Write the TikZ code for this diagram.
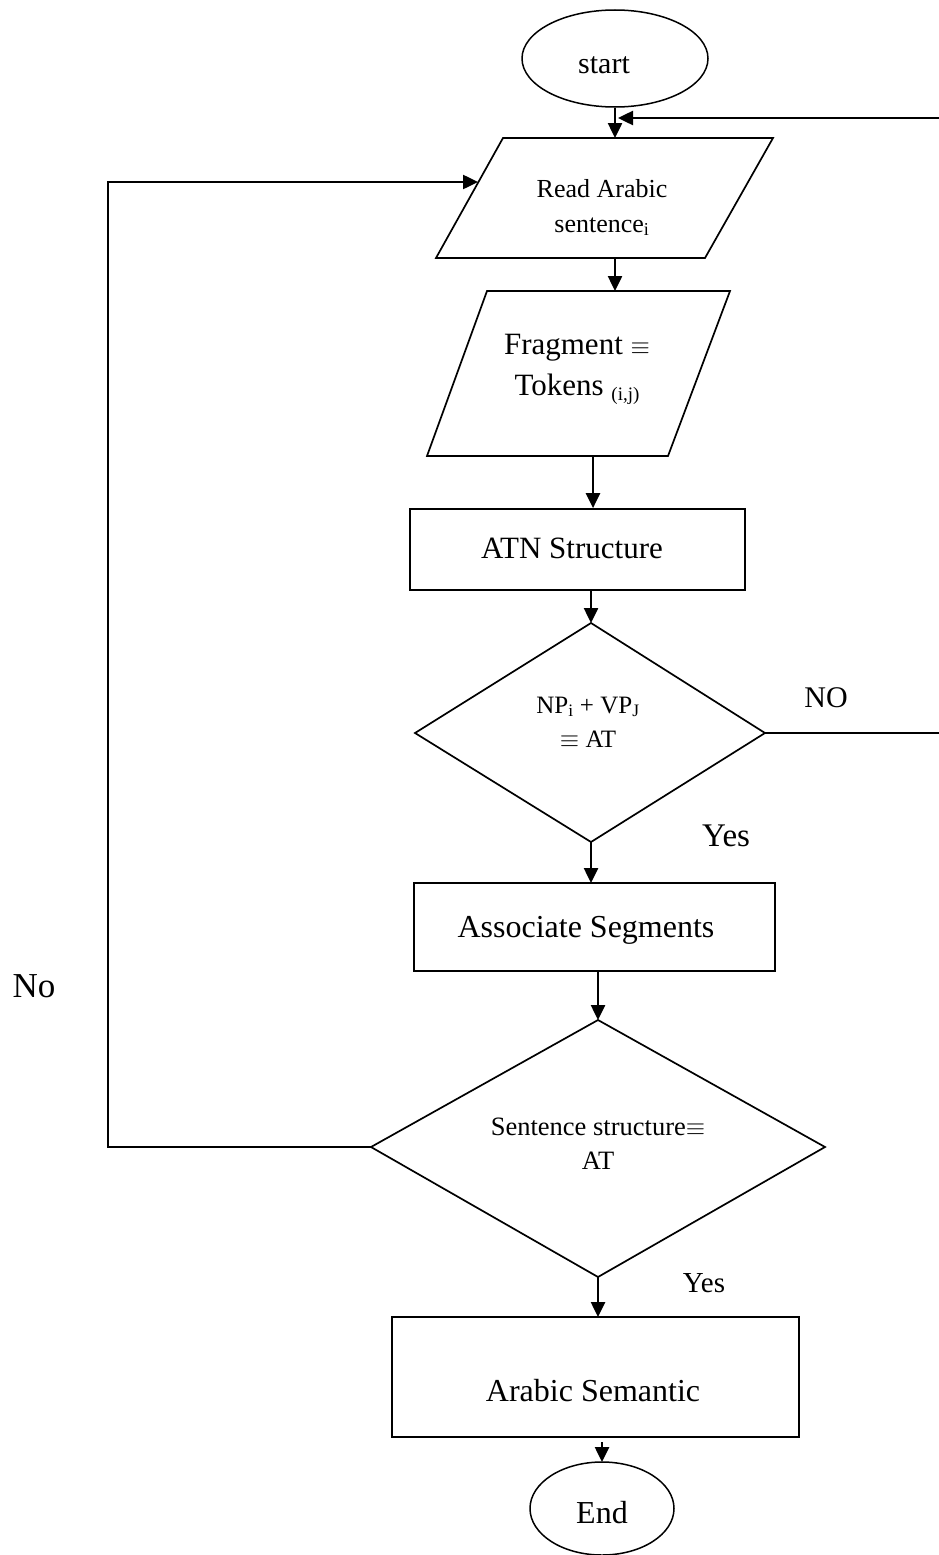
\documentclass[tikz,border=0pt]{standalone}
\usepackage{fontspec}
\setmainfont{Liberation Serif}
\usetikzlibrary{shapes.geometric,arrows.meta}

\tikzset{
  outline/.style={draw, line width=1.7pt, line join=miter},
  box/.style={outline, rectangle, inner sep=0pt},
  oval/.style={outline, ellipse, inner sep=0pt, line width=1.5pt},
  flow/.style={line width=2.5pt, -{Triangle[length=15pt,width=14pt]}},
  wire/.style={line width=2pt},
  lbl/.style={anchor=base, inner sep=0pt, align=center},
}
\newcommand{\eqv}{\ensuremath{\equiv}}

\begin{document}
\begin{tikzpicture}[x=1pt,y=-1pt]
\useasboundingbox (0,0) rectangle (938,1555);

% terminators
\node[oval, minimum width=186pt, minimum height=97pt] (start) at (615,58.5) {};
\node[lbl, font=\fontsize{30}{34}\selectfont] (startT) at (604,74) {start};
\node[oval, minimum width=144pt, minimum height=93pt] (end) at (602,1508.5) {};
\node[lbl, font=\fontsize{32}{36}\selectfont] (endT) at (602,1523) {End};

% input parallelogram: read sentence
\coordinate (p1a) at (503,138);
\coordinate (p1b) at (773,138);
\coordinate (p1c) at (705,258);
\coordinate (p1d) at (436,258);
\draw[outline] (p1a) -- (p1b) -- (p1c) -- (p1d) -- cycle;
\coordinate (p1top) at (615,138);
\coordinate (p1bot) at (615,258);
\coordinate (p1left) at (478,182);
% multi-line labels are anchored at the baseline of their last line
\node[lbl, font=\fontsize{26}{35}\selectfont] (readT) at (602,232)
  {Read Arabic\\sentence\textsubscript{i}};

% input parallelogram: fragment tokens
\coordinate (p2a) at (487,291);
\coordinate (p2b) at (730,291);
\coordinate (p2c) at (668,456);
\coordinate (p2d) at (427,456);
\draw[outline] (p2a) -- (p2b) -- (p2c) -- (p2d) -- cycle;
\coordinate (p2top) at (615,291);
\coordinate (p2bot) at (593,456);
\node[lbl, font=\fontsize{31}{41}\selectfont] (fragT) at (577,395)
  {Fragment \eqv\\Tokens {\fontsize{19}{19}\selectfont\raisebox{-5pt}{(i,j)}}};

% ATN structure
\node[box, minimum width=335pt, minimum height=81pt] (atn) at (577.5,549.5) {};
\node[lbl, font=\fontsize{31}{36}\selectfont] (atnT) at (572,558) {ATN Structure};
\coordinate (atnbot) at (591,590);

% first decision
\coordinate (d1t) at (591,623);
\coordinate (d1r) at (765,733);
\coordinate (d1b) at (591,842);
\coordinate (d1l) at (415,733);
\draw[outline] (d1t) -- (d1r) -- (d1b) -- (d1l) -- cycle;
\node[lbl, font=\fontsize{25}{34}\selectfont] (d1T) at (588,747)
  {NP\textsubscript{i} + VP\textsubscript{J}\\\eqv{} AT};

% associate segments
\node[box, minimum width=361pt, minimum height=88pt] (assoc) at (594.5,927) {};
\node[lbl, font=\fontsize{32}{36}\selectfont] (assocT) at (586,937) {Associate Segments};
\coordinate (assoctop) at (591,883);
\coordinate (assocbot) at (598,971);

% second decision
\coordinate (d2t) at (598,1020);
\coordinate (d2r) at (825,1147);
\coordinate (d2b) at (598,1277);
\coordinate (d2l) at (371,1147);
\draw[outline] (d2t) -- (d2r) -- (d2b) -- (d2l) -- cycle;
\node[lbl, font=\fontsize{26.5}{34}\selectfont] (d2T) at (598,1169)
  {Sentence structure\eqv\\AT};

% semantic output
\node[box, minimum width=407pt, minimum height=120pt] (sem) at (595.5,1377) {};
\node[lbl, font=\fontsize{32}{36}\selectfont] (semT) at (593,1401) {Arabic Semantic};
\coordinate (semtop) at (598,1317);
\coordinate (semout) at (602,1442);
\coordinate (endtop) at (602,1462);

% main flow
\draw[flow] (start.south) -- (p1top);
\draw[flow] (p1bot) -- (p2top);
\draw[flow] (p2bot) -- (atn.north -| p2bot);
\draw[flow] (atnbot) -- (d1t);
\draw[flow] (d1b) -- (assoctop);
\draw[flow] (assocbot) -- (d2t);
\draw[flow] (d2b) -- (semtop);
\draw[flow] (semout) -- (endtop);

% return paths
\coordinate (noEdge) at (942,733);
\coordinate (retEdge) at (942,118);
\coordinate (retTip) at (618,118);
\draw[wire] (d1r) -- (noEdge);
\draw[flow] (retEdge) -- (retTip);
\coordinate (loopCorner) at (108,1147);
\draw[flow] (d2l) -- (loopCorner) |- (p1left);

% branch labels
\node[lbl, font=\fontsize{30}{34}\selectfont] (noT) at (826,707) {NO};
\node[lbl, font=\fontsize{33}{36}\selectfont] (yes1T) at (726,846) {Yes};
\node[lbl, font=\fontsize{29}{34}\selectfont] (yes2T) at (704,1292) {Yes};
\node[lbl, font=\fontsize{35}{38}\selectfont] (no2T) at (34,997) {No};
\end{tikzpicture}
\end{document}
